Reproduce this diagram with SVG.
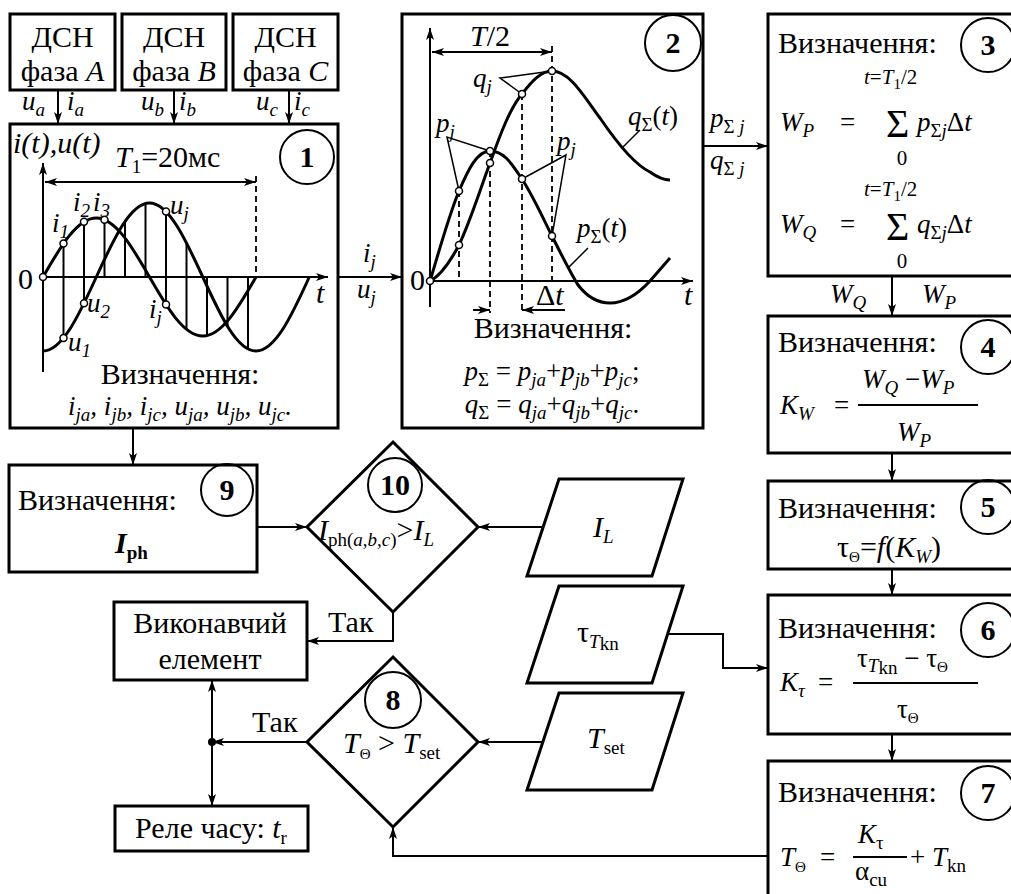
<svg xmlns="http://www.w3.org/2000/svg" width="1011" height="894" viewBox="0 0 1011 894" font-family="'Liberation Serif', 'DejaVu Serif', serif">
<defs>
<style>
text{font-family:'Liberation Serif','DejaVu Serif','Times New Roman',Times,serif;font-size:30px;fill:#000}
.i{font-style:italic}
.m{font-size:27px}
.s{font-size:19px}
.ss{font-size:15px}
.f{font-size:21px}
.big{font-size:40px}
.box{fill:#fff;stroke:#000;stroke-width:3}
.ln{fill:none;stroke:#000;stroke-width:2}
.cv{fill:none;stroke:#000;stroke-width:3}
.th{fill:none;stroke:#000;stroke-width:1.5}
.da{fill:none;stroke:#000;stroke-width:1.8;stroke-dasharray:6 4}
.mk{fill:#fff;stroke:#000;stroke-width:1.5}
.nc{fill:none;stroke:#000;stroke-width:2}
.num{font-weight:bold;text-anchor:middle}
.mid{text-anchor:middle}
</style>
<marker id="ah" viewBox="0 0 12 8" refX="12" refY="4" markerWidth="12" markerHeight="8" markerUnits="userSpaceOnUse" orient="auto-start-reverse"><path d="M0,0 L12,4 L0,8 L3,4 z" fill="#000"/></marker>
</defs>
<rect width="1011" height="894" fill="#fff"/>

<g id="dsnA"><rect class="box" x="10" y="14" width="105" height="76"/><text class="mid" x="62.5" y="47">ДСН</text><text class="mid" x="62.5" y="81">фаза <tspan class="i">A</tspan></text></g>
<g id="dsnB"><rect class="box" x="122" y="14" width="104" height="76"/><text class="mid" x="174" y="47">ДСН</text><text class="mid" x="174" y="81">фаза <tspan class="i">B</tspan></text></g>
<g id="dsnC"><rect class="box" x="233" y="14" width="105" height="76"/><text class="mid" x="285.5" y="47">ДСН</text><text class="mid" x="285.5" y="81">фаза <tspan class="i">C</tspan></text></g>

<g id="block1">
<rect class="box" x="10" y="124" width="328" height="304"/>
<circle class="nc" cx="307" cy="157" r="27"/><text class="num" x="307" y="167">1</text>
<text class="i" x="13" y="153">i(t),u(t)</text>
<text x="115" y="167"><tspan class="i">T</tspan><tspan class="s" dy="6">1</tspan><tspan dy="-6">=20мс</tspan></text>
<line class="ln" x1="45" y1="182" x2="256" y2="182" marker-start="url(#ah)" marker-end="url(#ah)"/>
<line class="da" x1="256" y1="176" x2="256" y2="277"/>
<line class="ln" x1="43" y1="372" x2="43" y2="163" marker-end="url(#ah)"/>
<line class="ln" x1="43" y1="277" x2="328" y2="277" marker-end="url(#ah)"/>
<g class="ln" stroke-width="1.8">
<line x1="63.5" y1="243.4" x2="63.5" y2="337.9"/>
<line x1="84" y1="221.8" x2="84" y2="303.2"/>
<line x1="104.5" y1="219.7" x2="104.5" y2="277"/>
<line x1="125" y1="221.5" x2="125" y2="277"/>
<line x1="145.5" y1="203.5" x2="145.5" y2="277"/>
<line x1="166" y1="211.6" x2="166" y2="304.6"/>
<line x1="186.5" y1="242.8" x2="186.5" y2="329.3"/>
<line x1="207" y1="277" x2="207" y2="335.6"/>
<line x1="227.5" y1="277" x2="227.5" y2="326"/>
<line x1="248" y1="277" x2="248" y2="349"/>
</g>
<path class="cv" d="M43,277 C60.4,246.8 77.1,218 96.3,218 C115.4,218 132.1,246.8 149.5,277 C166.9,307.2 183.6,336 202.8,336 C221.9,336 238.6,307.2 256,277"/>
<path class="cv" d="M43,351 C62.2,351 79.1,314.9 96.3,277 C113.6,239.1 130.3,203 149.5,203 C168.7,203 185.4,239.1 202.8,277 C220.1,314.9 236.8,351 256,351 C275.2,351 292.1,314.9 309.3,277"/>
<g class="mk">
<circle cx="43" cy="277" r="3.5"/><circle cx="63.5" cy="243.4" r="3.5"/><circle cx="84" cy="221.8" r="3.5"/><circle cx="104.5" cy="219.7" r="3.5"/>
<circle cx="63.5" cy="337.9" r="3.5"/><circle cx="84" cy="303.2" r="3.5"/><circle cx="166" cy="211.6" r="3.5"/><circle cx="166" cy="304.6" r="3.5"/>
</g>
<text class="i m" x="52" y="232">i<tspan class="s" dy="6">1</tspan></text>
<text class="i m" x="73" y="211">i<tspan class="s" dy="6">2</tspan><tspan dy="-6" dx="3">i</tspan><tspan class="s" dy="6">3</tspan></text>
<text class="i m" x="170" y="214">u<tspan class="s" dy="6">j</tspan></text>
<text x="18" y="289">0</text>
<text class="i m" x="87" y="312">u<tspan class="s" dy="6">2</tspan></text>
<text class="i m" x="149" y="318">i<tspan class="s" dy="6">j</tspan></text>
<text class="i m" x="68" y="351">u<tspan class="s" dy="6">1</tspan></text>
<text class="i" x="316" y="303">t</text>
<text class="mid" x="180" y="384">Визначення:</text>
<text class="mid i m" x="180" y="415">i<tspan class="s" dy="6">ja</tspan><tspan dy="-6">, i</tspan><tspan class="s" dy="6">jb</tspan><tspan dy="-6">, i</tspan><tspan class="s" dy="6">jc</tspan><tspan dy="-6">, u</tspan><tspan class="s" dy="6">ja</tspan><tspan dy="-6">, u</tspan><tspan class="s" dy="6">jb</tspan><tspan dy="-6">, u</tspan><tspan class="s" dy="6">jc</tspan><tspan dy="-6">.</tspan></text>
</g>

<g id="block2">
<rect class="box" x="402" y="14" width="301" height="414"/>
<circle class="nc" cx="673" cy="43" r="28"/><text class="num" x="673" y="53">2</text>
<line class="ln" x1="430" y1="307" x2="430" y2="28" marker-end="url(#ah)"/>
<line class="ln" x1="430" y1="281" x2="693" y2="281" marker-end="url(#ah)"/>
<text class="i" x="470" y="46">T<tspan font-style="normal">/2</tspan></text>
<line class="ln" x1="432" y1="52" x2="552" y2="52" marker-start="url(#ah)" marker-end="url(#ah)"/>
<line class="da" x1="552" y1="46" x2="552" y2="281"/>
<line class="da" x1="459" y1="191" x2="459" y2="281"/>
<line class="da" x1="490" y1="151" x2="490" y2="313"/>
<line class="da" x1="522" y1="94" x2="522" y2="313"/>
<line class="ln" x1="473" y1="310" x2="490" y2="310" marker-end="url(#ah)"/>
<line class="ln" x1="565" y1="310" x2="522" y2="310" marker-end="url(#ah)"/>
<path class="cv" d="M430,281 C438,255 448,218 459,191 C468,170 477,151 490,151 C505,151 513,166 522,179 C533,196 543,218 552,236 C562,256 570,272 578,285 C588,298 598,303 610,303 C625,303 638,294 650,281 C657,273 664,265 670,258"/>
<path class="cv" d="M430,281 C440,276 450,262 459,245 C470,222 480,190 490,163 C500,135 510,108 522,94 C532,81 541,71 552,71 C570,71 585,98 600,118 C615,140 635,165 650,172 C657,177 663,180 670,180"/>
<g class="th">
<polyline points="459,191 447,137 490,151"/>
<polyline points="552,71 500,78 522,94"/>
<polyline points="522,179 566,155 552,236"/>
<line x1="640" y1="130" x2="623" y2="147"/>
<line x1="588" y1="248" x2="568" y2="268"/>
</g>
<g class="mk">
<circle cx="430" cy="281" r="3.5"/><circle cx="459" cy="191" r="3.5"/><circle cx="490" cy="151" r="3.5"/><circle cx="522" cy="179" r="3.5"/><circle cx="552" cy="236" r="3.5"/>
<circle cx="459" cy="245" r="3.5"/><circle cx="490" cy="163" r="3.5"/><circle cx="522" cy="94" r="3.5"/><circle cx="552" cy="71" r="3.5"/>
</g>
<text class="i m" x="436" y="132">p<tspan class="s" dy="6">j</tspan></text>
<text class="i m" x="473" y="87">q<tspan class="s" dy="6">j</tspan></text>
<text class="i m" x="557" y="150">p<tspan class="s" dy="6">j</tspan></text>
<text class="m" x="628" y="125"><tspan class="i">q</tspan><tspan class="s" dy="6">Σ</tspan><tspan dy="-6">(</tspan><tspan class="i">t</tspan>)</text>
<text class="m" x="577" y="237"><tspan class="i">p</tspan><tspan class="s" dy="6">Σ</tspan><tspan dy="-6">(</tspan><tspan class="i">t</tspan>)</text>
<text x="410" y="290">0</text>
<text class="i" x="684" y="305">t</text>
<text x="536" y="305">Δ<tspan class="i">t</tspan></text>
<text class="mid" x="553" y="338">Визначення:</text>
<text class="mid m" x="552" y="380"><tspan class="i">p</tspan><tspan class="s" dy="6">Σ</tspan><tspan dy="-6"> = </tspan><tspan class="i">p</tspan><tspan class="s i" dy="6">ja</tspan><tspan dy="-6">+</tspan><tspan class="i">p</tspan><tspan class="s i" dy="6">jb</tspan><tspan dy="-6">+</tspan><tspan class="i">p</tspan><tspan class="s i" dy="6">jc</tspan><tspan dy="-6">;</tspan></text>
<text class="mid m" x="552" y="413"><tspan class="i">q</tspan><tspan class="s" dy="6">Σ</tspan><tspan dy="-6"> = </tspan><tspan class="i">q</tspan><tspan class="s i" dy="6">ja</tspan><tspan dy="-6">+</tspan><tspan class="i">q</tspan><tspan class="s i" dy="6">jb</tspan><tspan dy="-6">+</tspan><tspan class="i">q</tspan><tspan class="s i" dy="6">jc</tspan><tspan dy="-6">.</tspan></text>
</g>

<g id="block3">
<rect class="box" x="768" y="14" width="260" height="262"/>
<circle class="nc" cx="988" cy="45" r="27"/><text class="num" x="988" y="55">3</text>
<text x="778" y="53">Визначення:</text>
<text class="f" x="864" y="84"><tspan class="i">t</tspan>=<tspan class="i">T</tspan><tspan class="ss" dy="5">1</tspan><tspan dy="-5">/2</tspan></text>
<text class="m" x="780" y="131"><tspan class="i">W</tspan><tspan class="s i" dy="6">P</tspan></text>
<text class="m" x="840" y="131">=</text>
<text class="big" x="886" y="137">Σ</text>
<text class="m" x="917" y="131"><tspan class="i">p</tspan><tspan class="s" dy="6">Σ</tspan><tspan class="s i">j</tspan><tspan dy="-6">Δ</tspan><tspan class="i">t</tspan></text>
<text class="f mid" x="902" y="165">0</text>
<text class="f" x="864" y="196"><tspan class="i">t</tspan>=<tspan class="i">T</tspan><tspan class="ss" dy="5">1</tspan><tspan dy="-5">/2</tspan></text>
<text class="m" x="780" y="233"><tspan class="i">W</tspan><tspan class="s i" dy="6">Q</tspan></text>
<text class="m" x="840" y="233">=</text>
<text class="big" x="886" y="240">Σ</text>
<text class="f mid" x="902" y="268">0</text>
<text class="m" x="917" y="233"><tspan class="i">q</tspan><tspan class="s" dy="6">Σ</tspan><tspan class="s i">j</tspan><tspan dy="-6">Δ</tspan><tspan class="i">t</tspan></text>
</g>

<g id="block4">
<rect class="box" x="768" y="316" width="260" height="137"/>
<circle class="nc" cx="988" cy="347" r="27"/><text class="num" x="988" y="357">4</text>
<text x="778" y="352">Визначення:</text>
<text class="m" x="780" y="414"><tspan class="i">K</tspan><tspan class="s i" dy="6">W</tspan></text>
<text class="m" x="834" y="414">=</text>
<line class="ln" stroke-width="1.5" x1="858" y1="405" x2="978" y2="405"/>
<text class="m" x="862" y="388"><tspan class="i">W</tspan><tspan class="s i" dy="6">Q</tspan><tspan dy="-6"> −</tspan><tspan class="i">W</tspan><tspan class="s i" dy="6">P</tspan></text>
<text class="m" x="897" y="441"><tspan class="i">W</tspan><tspan class="s i" dy="6">P</tspan></text>
</g>

<g id="block5">
<rect class="box" x="768" y="481" width="260" height="88"/>
<circle class="nc" cx="988" cy="507" r="27"/><text class="num" x="988" y="517">5</text>
<text x="778" y="518">Визначення:</text>
<text class="mid" x="889" y="557">τ<tspan class="ss" dy="5">Θ</tspan><tspan dy="-5">=</tspan><tspan class="i">f</tspan>(<tspan class="i">K</tspan><tspan class="s i" dy="6">W</tspan><tspan dy="-6">)</tspan></text>
</g>

<g id="block6">
<rect class="box" x="768" y="595" width="260" height="139"/>
<circle class="nc" cx="988" cy="630" r="27"/><text class="num" x="988" y="640">6</text>
<text x="778" y="638">Визначення:</text>
<text class="m" x="780" y="691"><tspan class="i">K</tspan><tspan class="s i" dy="6">τ</tspan></text>
<text class="m" x="818" y="691">=</text>
<line class="ln" stroke-width="1.5" x1="853" y1="683" x2="978" y2="683"/>
<text class="m" x="857" y="667">τ<tspan class="s i" dy="5">T</tspan><tspan class="s" dy="2">kn</tspan><tspan dy="-7"> − τ</tspan><tspan class="ss" dy="5">Θ</tspan></text>
<text class="m" x="897" y="718">τ<tspan class="ss" dy="5">Θ</tspan></text>
</g>

<g id="block7">
<rect class="box" x="768" y="761" width="260" height="150"/>
<circle class="nc" cx="988" cy="793" r="27"/><text class="num" x="988" y="803">7</text>
<text x="778" y="802">Визначення:</text>
<text class="m" x="780" y="866"><tspan class="i">T</tspan><tspan class="ss" dy="6">Θ</tspan></text>
<text class="m" x="820" y="866">=</text>
<line class="ln" stroke-width="1.5" x1="853" y1="857" x2="907" y2="857"/>
<text class="m" x="858" y="843"><tspan class="i">K</tspan><tspan class="s" dy="6">τ</tspan></text>
<text class="m" x="855" y="880">α<tspan class="s" dy="6">cu</tspan></text>
<text class="m" x="910" y="866">+ <tspan class="i">T</tspan><tspan class="s" dy="6">kn</tspan></text>
</g>

<g id="block9">
<rect class="box" x="9" y="465" width="248" height="107"/>
<circle class="nc" cx="227" cy="490" r="26"/><text class="num" x="227" y="500">9</text>
<text x="18" y="510">Визначення:</text>
<text x="115" y="553" font-weight="bold"><tspan class="i">I</tspan><tspan class="s" dy="6">ph</tspan></text>
</g>

<g id="decision10">
<polygon class="box" points="393,442 478,527 393,612 307,527"/>
<circle class="nc" cx="395" cy="485" r="27"/><text class="num" x="395" y="495">10</text>
<text x="318" y="540"><tspan class="i">I</tspan><tspan class="s" dy="6">ph(<tspan class="i">a</tspan>,<tspan class="i">b</tspan>,<tspan class="i">c</tspan>)</tspan><tspan dy="-6">&gt;</tspan><tspan class="i">I</tspan><tspan class="s i" dy="6">L</tspan></text>
</g>

<g id="decision8">
<polygon class="box" points="393,657 478,742 393,827 307,742"/>
<circle class="nc" cx="393" cy="700" r="28"/><text class="num" x="393" y="710">8</text>
<text x="343" y="753"><tspan class="i">T</tspan><tspan class="ss" dy="6">Θ</tspan><tspan dy="-6"> &gt; </tspan><tspan class="i">T</tspan><tspan class="s" dy="6">set</tspan></text>
</g>

<g id="inputIL">
<polygon class="box" points="559,479 683,479 652,576 527,576"/>
<text x="593" y="537"><tspan class="i">I</tspan><tspan class="s i" dy="6">L</tspan></text>
</g>
<g id="inputTau">
<polygon class="box" points="559,586 683,586 652,683 527,683"/>
<text x="577" y="642">τ<tspan class="s i" dy="6">T</tspan><tspan class="s" dy="2">kn</tspan></text>
</g>
<g id="inputTset">
<polygon class="box" points="559,693 683,693 652,790 527,790"/>
<text x="587" y="748"><tspan class="i">T</tspan><tspan class="s" dy="6">set</tspan></text>
</g>

<g id="actuator">
<rect class="box" x="114" y="602" width="193" height="78"/>
<text class="mid" x="210" y="633">Виконавчий</text>
<text class="mid" x="210" y="669">елемент</text>
</g>
<g id="relay">
<rect class="box" x="115" y="806" width="193" height="45"/>
<text class="mid" x="211" y="838">Реле часу: <tspan class="i">t</tspan><tspan class="s" dy="6">r</tspan></text>
</g>

<g id="connectors">
<g class="ln">
<line x1="58" y1="90" x2="58" y2="124" marker-end="url(#ah)"/>
<line x1="174" y1="90" x2="174" y2="124" marker-end="url(#ah)"/>
<line x1="289" y1="90" x2="289" y2="124" marker-end="url(#ah)"/>
<line x1="338" y1="277" x2="402" y2="277" marker-end="url(#ah)"/>
<line x1="703" y1="146" x2="768" y2="146" marker-end="url(#ah)"/>
<line x1="892" y1="276" x2="892" y2="316" marker-end="url(#ah)"/>
<line x1="892" y1="453" x2="892" y2="481" marker-end="url(#ah)"/>
<line x1="892" y1="569" x2="892" y2="595" marker-end="url(#ah)"/>
<line x1="892" y1="734" x2="892" y2="761" marker-end="url(#ah)"/>
<line x1="133" y1="428" x2="133" y2="465" marker-end="url(#ah)"/>
<line x1="257" y1="527" x2="307" y2="527" marker-end="url(#ah)"/>
<line x1="543" y1="527" x2="478" y2="527" marker-end="url(#ah)"/>
<polyline points="667,634 723,634 723,668 768,668" marker-end="url(#ah)"/>
<line x1="543" y1="742" x2="478" y2="742" marker-end="url(#ah)"/>
<polyline points="768,856 393,856 393,827" marker-end="url(#ah)"/>
<polyline points="393,612 393,641 307,641" marker-end="url(#ah)"/>
<line x1="307" y1="742" x2="212" y2="742" marker-end="url(#ah)"/>
<line x1="212" y1="742" x2="212" y2="680" marker-end="url(#ah)"/>
<line x1="212" y1="742" x2="212" y2="806" marker-end="url(#ah)"/>
</g>
<circle cx="212" cy="742" r="4" fill="#000"/>
<text class="i m" x="22" y="110">u<tspan class="s" dy="6">a</tspan></text>
<text class="i m" x="67" y="110">i<tspan class="s" dy="6">a</tspan></text>
<text class="i m" x="141" y="110">u<tspan class="s" dy="6">b</tspan></text>
<text class="i m" x="179" y="110">i<tspan class="s" dy="6">b</tspan></text>
<text class="i m" x="256" y="110">u<tspan class="s" dy="6">c</tspan></text>
<text class="i m" x="294" y="110">i<tspan class="s" dy="6">c</tspan></text>
<text class="i m" x="363" y="262">i<tspan class="s" dy="6">j</tspan></text>
<text class="i m" x="357" y="298">u<tspan class="s" dy="6">j</tspan></text>
<text class="m" x="710" y="127"><tspan class="i">p</tspan><tspan class="s" dy="6">Σ</tspan><tspan class="s i"> j</tspan></text>
<text class="m" x="710" y="169"><tspan class="i">q</tspan><tspan class="s" dy="6">Σ</tspan><tspan class="s i"> j</tspan></text>
<text class="m" x="830" y="303"><tspan class="i">W</tspan><tspan class="s i" dy="6">Q</tspan></text>
<text class="m" x="922" y="303"><tspan class="i">W</tspan><tspan class="s i" dy="6">P</tspan></text>
<text x="328" y="632">Так</text>
<text x="252" y="732">Так</text>
</g>
</svg>
